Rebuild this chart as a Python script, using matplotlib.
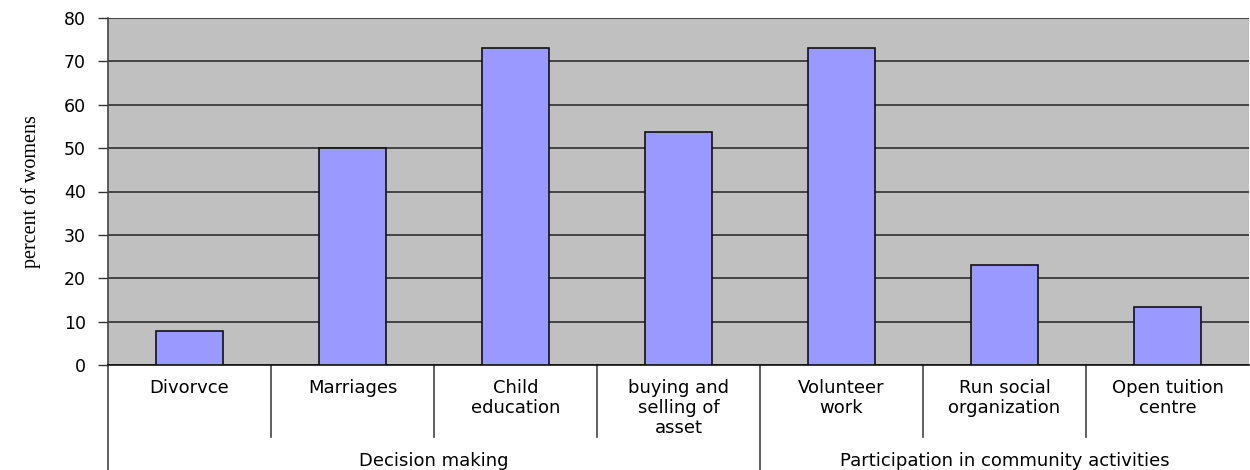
import matplotlib
matplotlib.use("Agg")
import matplotlib.pyplot as plt
import matplotlib.transforms as mtransforms

categories = ["Divorvce", "Marriages", "Child\neducation", "buying and\nselling of\nasset",
              "Volunteer\nwork", "Run social\norganization", "Open tuition\ncentre"]
values = [7.8, 50, 73, 53.8, 73, 23, 13.4]
groups = ["Decision making", "Participation in community activities"]
group_sizes = [4, 3]
yticks = [0, 10, 20, 30, 40, 50, 60, 70, 80]

SANS = "DejaVu Sans"

fig = plt.figure(figsize=(12.5, 4.7), dpi=100)
ax = fig.add_axes([108/1250, 105/470, 1141/1250, 347/470])
ax.set_facecolor("#C0C0C0")

x = list(range(len(categories)))
ax.bar(x, values, width=0.41, color="#9999FF", edgecolor="#111111", linewidth=1.2, zorder=3)
ax.set_xlim(-0.5, len(categories) - 0.5)
ax.set_ylim(0, 80)
ax.set_yticks(yticks)
ax.set_yticklabels([str(t) for t in yticks], family=SANS, fontsize=12.5)
ax.yaxis.grid(True, color="#222222", linewidth=1.1, zorder=1)
ax.set_axisbelow(True)
ax.tick_params(axis="y", length=7, width=1, color="#333333", pad=9)
ax.set_xticks([])
for s in ["top", "right"]:
    ax.spines[s].set_visible(False)
ax.spines["left"].set_color("#444444")
ax.spines["bottom"].set_color("#111111")
ax.spines["left"].set_linewidth(1.2)
ax.spines["bottom"].set_linewidth(1.2)

ax.set_ylabel("percent of womens", family="Liberation Serif", fontsize=14.5, labelpad=16)

trans = mtransforms.blended_transform_factory(ax.transData, ax.transAxes)

# extend left axis line
ax.plot([-0.5, -0.5], [0, -0.303], transform=trans, color="#444444", lw=1.2, clip_on=False)

# category labels
for xi, lab in zip(x, categories):
    ax.text(xi, -0.04, lab, transform=trans, ha="center", va="top",
            family=SANS, fontsize=13, linespacing=1.15)

# separators
boundaries = []
acc = 0
for g in group_sizes:
    acc += g
    boundaries.append(acc)
for k in range(1, len(categories)):
    bottom = -0.303 if k in boundaries else -0.2075
    ax.plot([k - 0.5, k - 0.5], [0, bottom], transform=trans, color="#444444", lw=1.2, clip_on=False)

# group labels
start = 0
for gname, g in zip(groups, group_sizes):
    center = start + (g - 1) / 2
    ax.text(center, -0.276, gname, transform=trans, ha="center", va="center",
            family=SANS, fontsize=13)
    start += g

fig.savefig("out.png", dpi=100)
